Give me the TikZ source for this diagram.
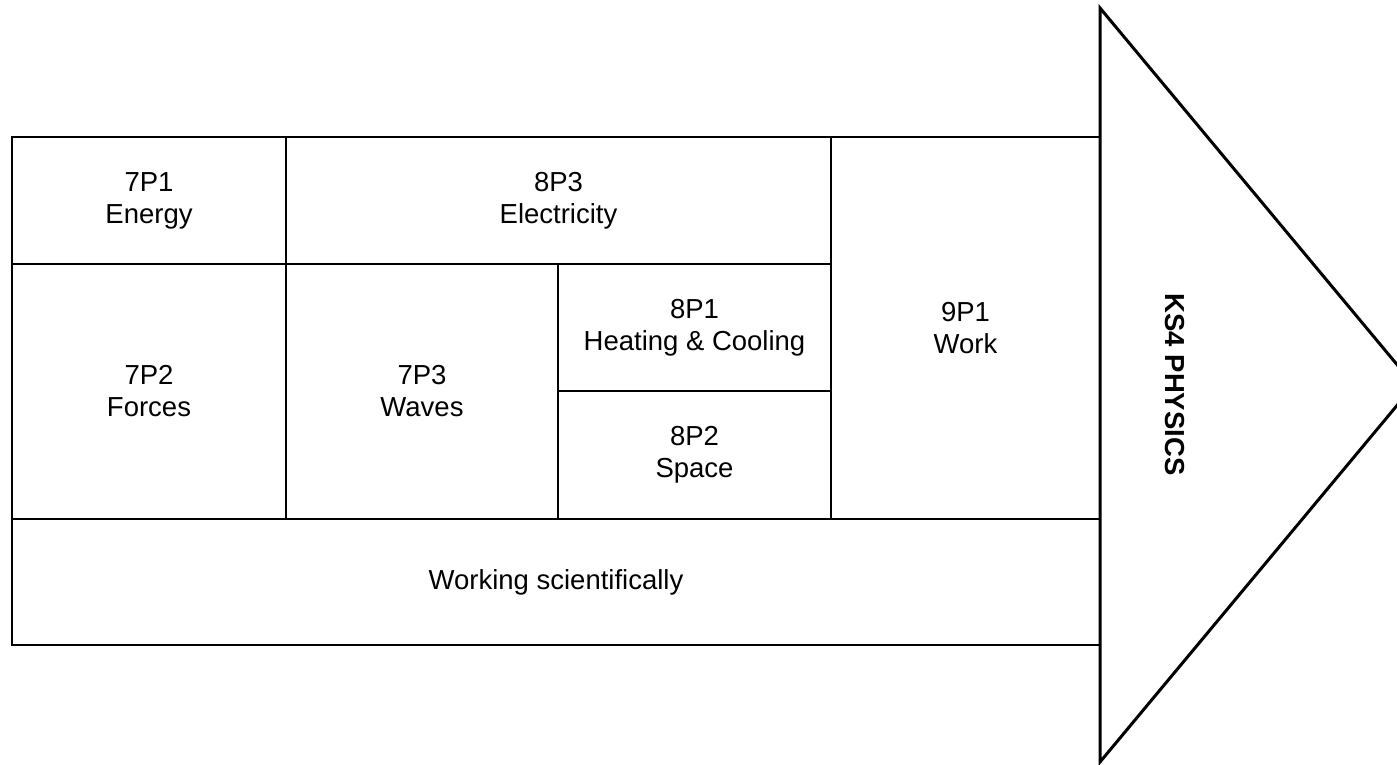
\documentclass[tikz,border=0pt]{standalone}
\usepackage{fontspec}
\setmainfont{Liberation Sans}
\begin{document}
\begin{tikzpicture}[x=1pt,y=-1pt,
  cell/.style={draw=black, line width=2pt, inner sep=0pt, align=center,
    font=\fontsize{27.5}{32}\selectfont},
  arrowshape/.style={draw=black, line width=3pt, line join=miter},
  bigtext/.style={font=\bfseries\fontsize{27.5}{32}\selectfont, inner sep=0pt}
 ]
\useasboundingbox (0,0) rectangle (1397,765);
\node[cell, minimum width=274pt, minimum height=127pt] (p71) at (149,200.5) {7P1\\Energy};
\node[cell, minimum width=545pt, minimum height=127pt] (p83) at (558.5,200.5) {8P3\\Electricity};
\node[cell, minimum width=269pt, minimum height=382pt] (p91) at (965.5,328) {9P1\\Work};
\node[cell, minimum width=274pt, minimum height=255pt] (p72) at (149,391.5) {7P2\\Forces};
\node[cell, minimum width=272pt, minimum height=255pt] (p73) at (422,391.5) {7P3\\Waves};
\node[cell, minimum width=273pt, minimum height=127pt] (p81) at (694.5,327.5) {8P1\\Heating \& Cooling};
\node[cell, minimum width=273pt, minimum height=128pt] (p82) at (694.5,455) {8P2\\Space};
\node[cell, minimum width=1088pt, minimum height=126pt] (ws) at (556,582) {Working scientifically};
\begin{scope}
  \clip (0,0) rectangle (1397,765);
  \coordinate (t1) at (1100,8);
  \coordinate (t2) at (1414,385);
  \coordinate (t3) at (1100,762);
  \draw[arrowshape] (t1) -- (t2) -- (t3) -- cycle;
\end{scope}
\node[bigtext, rotate=-90] (ks4) at (1175,384.5) {KS4 PHYSICS};
\end{tikzpicture}
\end{document}
